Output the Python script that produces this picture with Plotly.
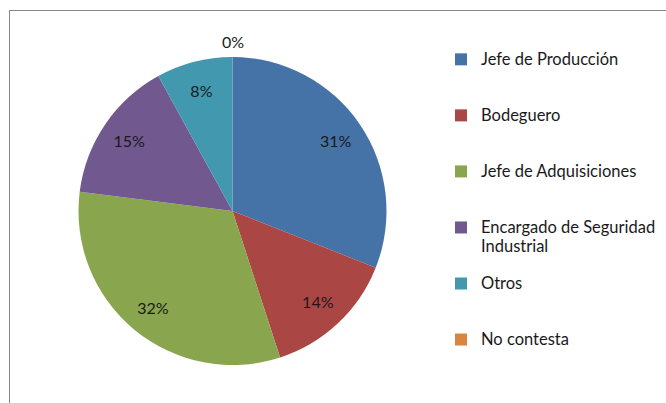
import plotly.graph_objects as go

W, H = 666, 403

categories = ["Jefe de Producción", "Bodeguero", "Jefe de Adquisiciones",
              "Encargado de Seguridad<br>Industrial", "Otros", "No contesta"]
values = [31, 14, 32, 15, 8, 0]
colors = ["#4572A7", "#AA4643", "#89A54E", "#71588F", "#4198AF", "#DB843D"]

texts = [f"{v}%" if v > 0 else "" for v in values]

FONT = "Lato, 'Open Sans', Arial, sans-serif"
TXT = "#1a1a1a"
LEG_TEXT_PX = 16.5

# legend entries: every entry padded to three lines so they are evenly spaced
legend_names = []
for c in categories:
    parts = c.split("<br>")
    styled = []
    for i, part in enumerate(parts):
        shift = ";baseline-shift:-2.4px" if i > 0 else ""
        styled.append(f"<span style='font-size:{LEG_TEXT_PX}px{shift}'>{part}</span>")
    legend_names.append("<br>".join(styled) + "<br> " * (3 - len(parts)))

# pie domain in paper coordinates (margins are zero)
px0, px1 = 78, 387
py0, py1 = 57, 365
dom_x = [px0 / W, px1 / W]
dom_y = [1 - py1 / H, 1 - py0 / H]

fig = go.Figure()
# coloured pie (no text)
fig.add_trace(go.Pie(
    labels=legend_names,
    values=values,
    textinfo="none",
    sort=False,
    direction="clockwise",
    rotation=0,
    marker=dict(colors=colors, line=dict(width=0)),
    domain=dict(x=dom_x, y=dom_y),
    hoverinfo="percent",
))
# transparent ring carrying the percentage labels at ~0.8 radius
fig.add_trace(go.Pie(
    labels=categories,
    values=values,
    text=texts,
    textinfo="text",
    textposition="inside",
    insidetextorientation="horizontal",
    hole=0.62,
    sort=False,
    direction="clockwise",
    rotation=0,
    marker=dict(colors=["rgba(0,0,0,0)"] * len(values), line=dict(width=0)),
    textfont=dict(family=FONT, size=16, color=TXT),
    domain=dict(x=dom_x, y=dom_y),
    showlegend=False,
    hoverinfo="skip",
))

# zero-valued slice label, placed just above the pie top
zero_labels = [f"{v}%" for v in values if v == 0]
for t in zero_labels:
    fig.add_annotation(
        x=(dom_x[0] + dom_x[1]) / 2, y=dom_y[1], xref="paper", yref="paper",
        text=t, showarrow=False, yanchor="bottom", yshift=4,
        font=dict(family=FONT, size=16, color=TXT),
    )

# chart frame
fig.add_shape(type="rect", xref="paper", yref="paper",
              x0=9.5 / W, x1=1.02, y0=-0.02, y1=1 - 10.5 / H,
              line=dict(color="#868686", width=1), fillcolor="rgba(0,0,0,0)")

fig.update_layout(
    width=W, height=H, autosize=False,
    margin=dict(l=0, r=0, t=0, b=0),
    paper_bgcolor="white", plot_bgcolor="white",
    showlegend=True,
    legend=dict(
        x=441 / W, y=1 - 44 / H, xanchor="left", yanchor="top",
        font=dict(family=FONT, size=13.6, color=TXT),
        valign="top", itemclick=False, itemdoubleclick=False,
        bgcolor="rgba(0,0,0,0)",
    ),
)

fig.write_html("out.html")
